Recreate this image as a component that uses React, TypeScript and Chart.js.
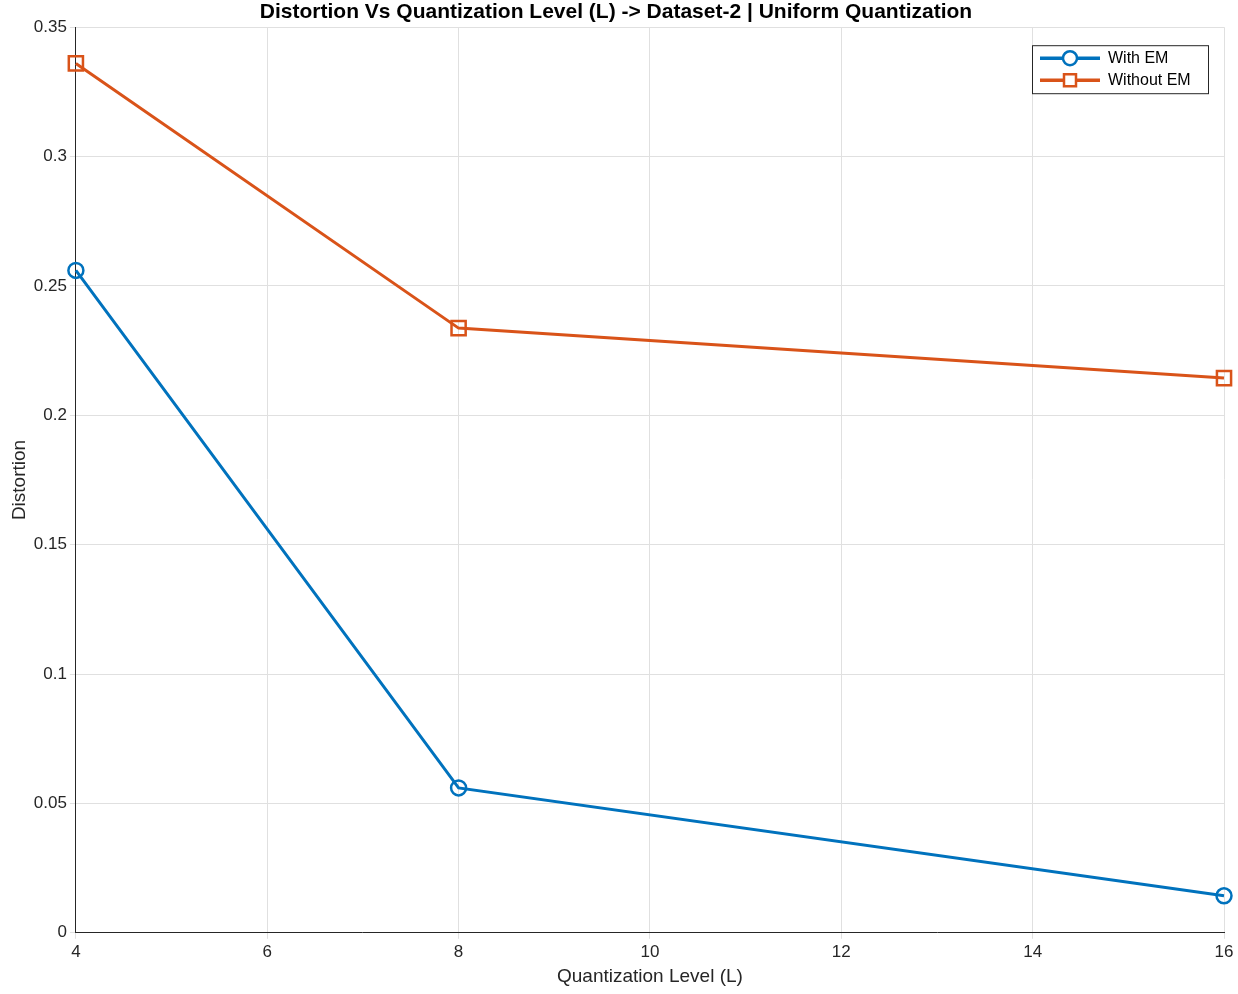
import { useEffect, useRef } from 'react';
import { Chart, registerables } from 'chart.js';

Chart.register(...registerables);

const levels = [4, 8, 16];
const withEM = [0.256, 0.056, 0.0143];
const withoutEM = [0.336, 0.2337, 0.2144];
const seriesNames = ['With EM', 'Without EM'];
const seriesColors = ['#0072BD', '#D95319'];

const legendBox = {
  id: 'legendBox',
  afterDraw(chart: Chart) {
    const { ctx, chartArea } = chart;
    const w = 176;
    const h = 48;
    const x = chartArea.right - 192;
    const y = chartArea.top + 18;
    ctx.save();
    ctx.fillStyle = '#fff';
    ctx.fillRect(x, y, w, h);
    ctx.strokeStyle = '#262626';
    ctx.lineWidth = 1;
    ctx.strokeRect(x + 0.5, y + 0.5, w, h);
    ctx.font = '16px "Liberation Sans", Arial, sans-serif';
    ctx.textBaseline = 'middle';
    seriesNames.forEach((name, i) => {
      const cy = y + 13 + i * 22;
      ctx.strokeStyle = seriesColors[i];
      ctx.lineWidth = 3.5;
      ctx.beginPath();
      ctx.moveTo(x + 8, cy);
      ctx.lineTo(x + 68, cy);
      ctx.stroke();
      ctx.lineWidth = 2.5;
      ctx.fillStyle = '#fff';
      ctx.beginPath();
      if (i === 0) ctx.arc(x + 38, cy, 7, 0, Math.PI * 2);
      else ctx.rect(x + 32, cy - 6, 12, 12);
      ctx.fill();
      ctx.stroke();
      ctx.fillStyle = '#000';
      ctx.fillText(name, x + 76, cy);
    });
    ctx.restore();
  },
};

export default function App(): React.JSX.Element {
  const canvasRef = useRef<HTMLCanvasElement>(null);

  useEffect(() => {
    if (!canvasRef.current) return;
    document.body.style.margin = '0';
    const font = { family: '"Liberation Sans", Arial, sans-serif', size: 17 };
    const chart = new Chart(canvasRef.current, {
      type: 'line',
      data: {
        datasets: [
          {
            label: seriesNames[0],
            data: levels.map((l, i) => ({ x: l, y: withEM[i] })),
            borderColor: seriesColors[0],
            backgroundColor: 'rgba(0,0,0,0)',
            borderWidth: 3,
            pointStyle: 'circle',
            pointRadius: 7.5,
            pointBorderWidth: 2.5,
            clip: false,
          },
          {
            label: seriesNames[1],
            data: levels.map((l, i) => ({ x: l, y: withoutEM[i] })),
            borderColor: seriesColors[1],
            backgroundColor: 'rgba(0,0,0,0)',
            borderWidth: 3,
            pointStyle: 'rect',
            pointRadius: 10,
            pointBorderWidth: 2.5,
            clip: false,
          },
        ],
      },
      options: {
        animation: false,
        responsive: false,
        layout: { padding: { right: 14, top: 0, left: 8, bottom: 6 } },
        plugins: {
          legend: { display: false },
          tooltip: { enabled: false },
          title: {
            display: true,
            text: 'Distortion Vs Quantization Level (L) -> Dataset-2 | Uniform Quantization',
            color: '#000',
            font: { ...font, size: 21, weight: 'bold' },
            padding: { top: 0, bottom: 2 },
          },
        },
        scales: {
          x: {
            type: 'linear',
            min: 4,
            max: 16,
            ticks: { stepSize: 2, color: '#262626', font },
            grid: { color: '#e0e0e0', tickLength: 6 },
            border: { color: '#262626' },
            title: { display: true, text: 'Quantization Level (L)', color: '#262626', font: { ...font, size: 19 }, padding: 0 },
          },
          y: {
            min: 0,
            max: 0.35,
            ticks: {
              stepSize: 0.05,
              color: '#262626',
              font,
              callback: (v) => String(Math.round(Number(v) * 100) / 100),
            },
            grid: { color: '#e0e0e0', tickLength: 6 },
            border: { color: '#262626' },
            title: { display: true, text: 'Distortion', color: '#262626', font: { ...font, size: 19 }, padding: 0 },
          },
        },
      },
      plugins: [legendBox],
    });
    return () => chart.destroy();
  }, []);

  return <canvas ref={canvasRef} width={1238} height={994} />;
}
